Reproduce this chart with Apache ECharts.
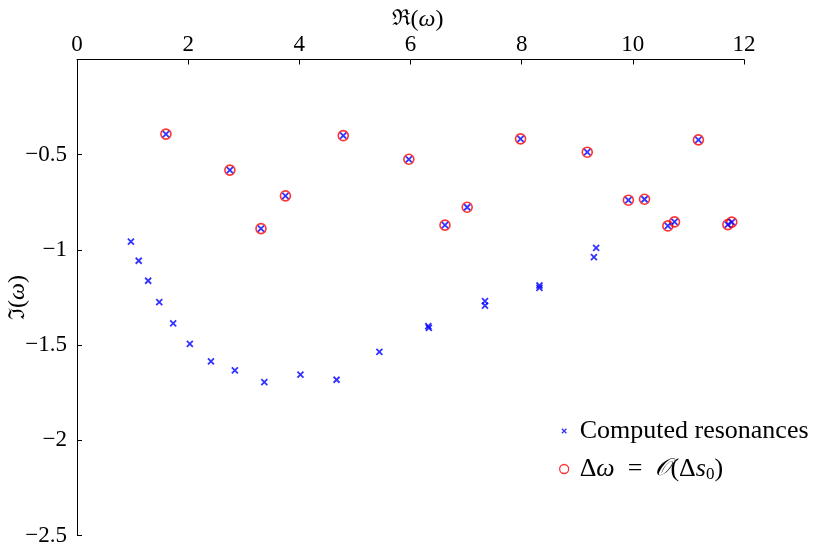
<!DOCTYPE html>
<html>
<head>
<meta charset="utf-8">
<script src="https://cdn.jsdelivr.net/npm/echarts@6/dist/echarts.min.js"></script>
<style>
  html, body { margin: 0; padding: 0; background: #fff; }
  #chart { width: 816px; height: 544px; }
</style>
</head>
<body>
<div id="chart"></div>
<script>
// Resonances in the complex frequency plane: [Re(omega), Im(omega)]
const computedResonances = [
  [0.97, -0.957], [1.11, -1.057], [1.28, -1.162], [1.48, -1.274], [1.73, -1.386],
  [2.03, -1.493], [2.41, -1.585], [2.84, -1.633], [3.37, -1.694], [4.02, -1.655],
  [4.67, -1.682], [5.44, -1.536], [6.32, -1.400], [6.33, -1.410], [7.34, -1.269],
  [7.34, -1.293], [8.32, -1.187], [8.32, -1.200], [9.30, -1.038], [9.34, -0.989],
  [1.60, -0.392], [2.75, -0.581], [3.31, -0.888], [3.75, -0.716], [4.79, -0.400],
  [5.97, -0.524], [6.62, -0.870], [7.02, -0.776], [7.98, -0.417], [9.18, -0.487],
  [9.92, -0.739], [10.21, -0.734], [10.63, -0.874], [10.75, -0.853], [11.18, -0.422],
  [11.71, -0.867], [11.78, -0.854]
];

// Resonances whose shift is of order Delta s_0
const firstOrderShift = [
  [1.60, -0.392], [2.75, -0.581], [3.31, -0.888], [3.75, -0.716], [4.79, -0.400],
  [5.97, -0.524], [6.62, -0.870], [7.02, -0.776], [7.98, -0.417], [9.18, -0.487],
  [9.92, -0.739], [10.21, -0.734], [10.63, -0.874], [10.75, -0.853], [11.18, -0.422],
  [11.71, -0.867], [11.78, -0.854]
];

const xTicks = [0, 2, 4, 6, 8, 10, 12];
const yTicks = [0, -0.5, -1, -1.5, -2, -2.5];

const seriesNames = ['Computed resonances', 'Δω = O(Δs0)'];

const FONT = '"Liberation Serif", "DejaVu Serif", serif';
const crossPath = 'path://M0,0L10,10M10,0L0,10';
// same cross with an empty margin so the legend icon stays small
const crossIconPath = 'path://M0,0M2.5,2.5L7.5,7.5M7.5,2.5L2.5,7.5M10,10';

const chart = echarts.init(document.getElementById('chart'), null, { renderer: 'canvas' });

const axisNameRich = {
  f: { fontFamily: '"DejaVu Serif", serif', fontSize: 22, color: '#000' },
  n: { fontFamily: FONT, fontSize: 24, color: '#000' },
  i: { fontFamily: FONT, fontSize: 24, fontStyle: 'italic', color: '#000' }
};

chart.setOption({
  backgroundColor: '#ffffff',
  animation: false,
  grid: { left: 77, right: 72, top: 59.5, bottom: 8.5, outerBoundsMode: 'none', containLabel: false },
  xAxis: {
    type: 'value',
    position: 'top',
    min: xTicks[0],
    max: xTicks[xTicks.length - 1],
    interval: 2,
    name: '{f|ℜ}{n|(}{i|ω}{n|)}',
    nameLocation: 'middle',
    nameGap: 28,
    nameMoveOverlap: false,
    nameTextStyle: { rich: axisNameRich, padding: [0, 0, 0, 14] },
    axisLine: { show: true, onZero: false, lineStyle: { color: '#000', width: 1 } },
    axisTick: { show: true, inside: true, length: 5, lineStyle: { color: '#000', width: 1 } },
    axisLabel: { color: '#000', fontFamily: FONT, fontSize: 23, margin: 3 },
    splitLine: { show: false }
  },
  yAxis: {
    type: 'value',
    min: yTicks[yTicks.length - 1],
    max: yTicks[0],
    interval: 0.5,
    name: '{f|ℑ}{n|(}{i|ω}{n|)}',
    nameLocation: 'middle',
    nameGap: 47,
    nameRotate: 90,
    nameMoveOverlap: false,
    nameTextStyle: { rich: axisNameRich },
    axisLine: { show: true, onZero: false, lineStyle: { color: '#000', width: 1 } },
    axisTick: { show: true, inside: true, length: 5, lineStyle: { color: '#000', width: 1 } },
    axisLabel: {
      color: '#000', fontFamily: FONT, fontSize: 23, margin: 10,
      formatter: v => (v === 0 ? '' : '\u2212' + Math.abs(v))
    },
    splitLine: { show: false }
  },
  legend: {
    orient: 'vertical',
    left: 554,
    top: 413,
    itemWidth: 9,
    itemHeight: 9,
    itemGap: 12,
    data: [
      {
        name: seriesNames[0],
        icon: crossIconPath,
        itemStyle: { color: 'transparent', borderColor: '#0000ff', borderWidth: 1.3 }
      },
      {
        name: seriesNames[1],
        icon: 'circle',
        itemStyle: { color: 'transparent', borderColor: '#ff0000', borderWidth: 1.3 }
      }
    ],
    formatter: name => name === seriesNames[0]
      ? '{n|Computed resonances}'
      : '{n|Δ}{i|ω}{n|\u2002=\u2002}{c|𝒪}{n|(Δ}{i|s}{s|0}{n|)}',
    textStyle: {
      padding: [0, 0, 0, 6],
      rich: {
        n: { fontFamily: FONT, fontSize: 26, color: '#000' },
        i: { fontFamily: FONT, fontSize: 26, fontStyle: 'italic', color: '#000' },
        c: { fontFamily: '"DejaVu Sans", "Noto Sans", serif', fontSize: 24, fontStyle: 'italic', color: '#000' },
        s: { fontFamily: FONT, fontSize: 17, color: '#000', padding: [11, 0, 0, 0] }
      }
    }
  },
  series: [
    {
      name: seriesNames[1],
      type: 'scatter',
      data: firstOrderShift,
      symbol: 'circle',
      symbolSize: 10,
      itemStyle: { color: 'transparent', borderColor: '#ff0000', borderWidth: 1.6 },
      z: 2
    },
    {
      name: seriesNames[0],
      type: 'scatter',
      data: computedResonances,
      symbol: crossPath,
      symbolSize: 6,
      itemStyle: { color: 'transparent', borderColor: '#0000ff', borderWidth: 1.8 },
      z: 3
    }
  ]
});
</script>
</body>
</html>
